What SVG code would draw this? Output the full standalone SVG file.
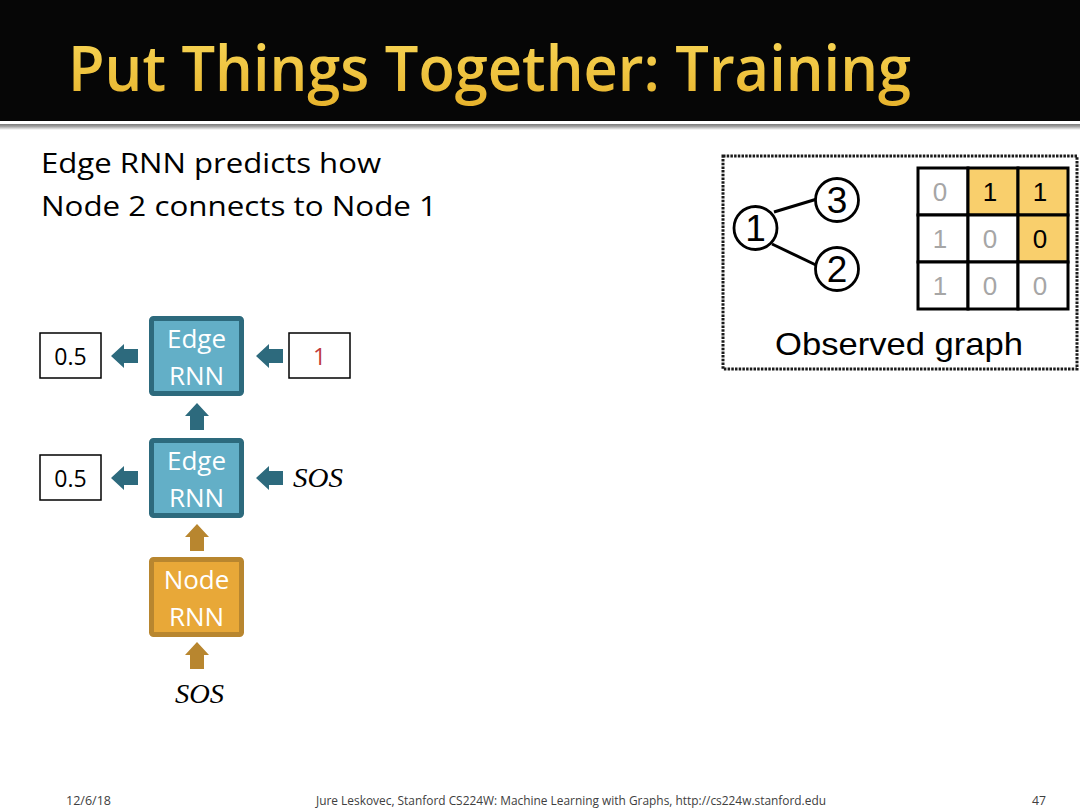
<svg xmlns="http://www.w3.org/2000/svg" width="1080" height="810" viewBox="0 0 1080 810">
  <defs>
    <linearGradient id="titleGold" x1="0" y1="0" x2="0" y2="1">
      <stop offset="0" stop-color="#FADB5C"/>
      <stop offset="1" stop-color="#E6B12A"/>
    </linearGradient>
    <linearGradient id="ruleShade" x1="0" y1="0" x2="0" y2="1">
      <stop offset="0" stop-color="#7A7A7A"/>
      <stop offset="0.4" stop-color="#A0A0A0"/>
      <stop offset="1" stop-color="#FFFFFF"/>
    </linearGradient>
    <!-- block arrow pointing left, tip at origin -->
    <g id="arrowLeft">
      <path d="M0,0 L13,-12 L13,-7 L27,-7 L27,7 L13,7 L13,12 Z"/>
      <line class="stripe" x1="9" y1="0" x2="22" y2="0"/>
    </g>
  </defs>
  <style>
    .sans { font-family: "Open Sans", "Liberation Sans", sans-serif; }
    .helv { font-family: "Liberation Sans", Arial, sans-serif; }
    .math { font-family: "Liberation Serif", "DejaVu Serif", serif; font-style: italic; }
    .edge rect { fill: #63AFC7; stroke: #2D6A7D; stroke-width: 5; }
    .noderb rect { fill: #E8A838; stroke: #B8862F; stroke-width: 5; }
    .rnnlabel { fill: #FFFFFF; font-size: 26px; text-anchor: middle; }
    .valbox rect { fill: #FFFFFF; stroke: #000000; stroke-width: 1.5; }
    .valbox text { font-size: 23px; text-anchor: middle; }
    .teal { fill: #2D6A7D; }
    .teal .stripe { stroke: #6BB5CC; stroke-width: 2.5; }
    .gold { fill: #B8862F; }
    .gold .stripe { stroke: #EDB048; stroke-width: 2.5; }
    .gnode circle { fill: #FFFFFF; stroke: #000000; stroke-width: 2.8; }
    .gnode text { font-size: 37px; text-anchor: middle; }
    .cell { stroke: #000000; stroke-width: 3; }
    .mval { font-size: 26px; text-anchor: middle; }
    .footer { fill: #404040; font-size: 12px; }
  </style>

  <!-- title bar -->
  <rect x="0" y="0" width="1080" height="121" fill="#060606"/>
  <rect x="0" y="124" width="1080" height="6" fill="url(#ruleShade)"/>
  <text class="sans" x="68" y="91" font-size="64" font-weight="600" fill="url(#titleGold)" textLength="843" lengthAdjust="spacingAndGlyphs">Put Things Together: Training</text>

  <!-- subtitle -->
  <text class="sans" x="41" y="173" font-size="28" fill="#000" textLength="340" lengthAdjust="spacingAndGlyphs">Edge RNN predicts how</text>
  <text class="sans" x="41" y="216" font-size="28" fill="#000" textLength="396" lengthAdjust="spacingAndGlyphs">Node 2 connects to Node 1</text>

  <!-- connectors -->
  <g id="connectors">
    <use href="#arrowLeft" class="teal" transform="translate(111,356)"/>
    <use href="#arrowLeft" class="teal" transform="translate(256,356)"/>
    <use href="#arrowLeft" class="teal" transform="translate(111,478)"/>
    <use href="#arrowLeft" class="teal" transform="translate(256,478)"/>
    <use href="#arrowLeft" class="teal" transform="translate(197,403) rotate(90)"/>
    <use href="#arrowLeft" class="gold" transform="translate(197,524) rotate(90)"/>
    <use href="#arrowLeft" class="gold" transform="translate(197,642) rotate(90)"/>
  </g>

  <!-- Edge RNN (upper) -->
  <g id="edge-rnn-2" class="edge">
    <rect x="151.5" y="318.5" width="90" height="75" rx="2"/>
    <text class="sans rnnlabel" x="196.5" y="348">Edge</text>
    <text class="sans rnnlabel" x="196.5" y="385">RNN</text>
  </g>

  <!-- Edge RNN (lower) -->
  <g id="edge-rnn-1" class="edge">
    <rect x="151.5" y="440.5" width="90" height="75" rx="2"/>
    <text class="sans rnnlabel" x="196.5" y="470">Edge</text>
    <text class="sans rnnlabel" x="196.5" y="507">RNN</text>
  </g>

  <!-- Node RNN -->
  <g id="node-rnn" class="noderb">
    <rect x="151.5" y="559.5" width="90" height="75" rx="2"/>
    <text class="sans rnnlabel" x="196.5" y="589">Node</text>
    <text class="sans rnnlabel" x="196.5" y="626">RNN</text>
  </g>

  <!-- outputs / inputs -->
  <g id="out-2" class="valbox">
    <rect x="40" y="333" width="61" height="45"/>
    <text class="sans" x="70.5" y="365" fill="#000">0.5</text>
  </g>
  <g id="in-2" class="valbox">
    <rect x="289" y="333" width="61" height="45"/>
    <text class="sans" x="319.5" y="365" fill="#C0393B">1</text>
  </g>
  <g id="out-1" class="valbox">
    <rect x="40" y="455" width="61" height="45"/>
    <text class="sans" x="70.5" y="487" fill="#000">0.5</text>
  </g>
  <g id="in-1">
    <text class="math" x="293" y="487" font-size="27" fill="#000" textLength="50" lengthAdjust="spacingAndGlyphs">SOS</text>
  </g>
  <g id="in-node">
    <text class="math" x="175" y="703" font-size="27" fill="#000" textLength="49" lengthAdjust="spacingAndGlyphs">SOS</text>
  </g>

  <!-- observed graph panel -->
  <g id="observed-graph">
    <rect x="723" y="156" width="354" height="213" fill="#FFFFFF" stroke="#1A1A1A" stroke-width="3" stroke-dasharray="2.5 1.2"/>
    <line x1="774" y1="212" x2="817" y2="199" stroke="#000" stroke-width="3"/>
    <line x1="772" y1="244" x2="818" y2="266" stroke="#000" stroke-width="3"/>
    <g id="g-node-1" class="gnode helv">
      <circle cx="755.5" cy="228" r="21.5"/>
      <text x="755.5" y="241">1</text>
    </g>
    <g id="g-node-3" class="gnode helv">
      <circle cx="837" cy="200" r="21.5"/>
      <text x="837" y="213">3</text>
    </g>
    <g id="g-node-2" class="gnode helv">
      <circle cx="837" cy="269" r="21.5"/>
      <text x="837" y="282">2</text>
    </g>

    <!-- adjacency matrix -->
    <g id="adjacency" class="helv">
      <rect class="cell" x="918" y="168" width="50" height="47" fill="#FFFFFF"/>
      <rect class="cell" x="968" y="168" width="50" height="47" fill="#F9CF6C"/>
      <rect class="cell" x="1018" y="168" width="50" height="47" fill="#F9CF6C"/>
      <rect class="cell" x="918" y="215" width="50" height="47" fill="#FFFFFF"/>
      <rect class="cell" x="968" y="215" width="50" height="47" fill="#FFFFFF"/>
      <rect class="cell" x="1018" y="215" width="50" height="47" fill="#F9CF6C"/>
      <rect class="cell" x="918" y="262" width="50" height="47" fill="#FFFFFF"/>
      <rect class="cell" x="968" y="262" width="50" height="47" fill="#FFFFFF"/>
      <rect class="cell" x="1018" y="262" width="50" height="47" fill="#FFFFFF"/>
      <text class="mval" x="940" y="201" fill="#A6A6A6">0</text>
      <text class="mval" x="990" y="201" fill="#000">1</text>
      <text class="mval" x="1040" y="201" fill="#000">1</text>
      <text class="mval" x="940" y="248" fill="#A6A6A6">1</text>
      <text class="mval" x="990" y="248" fill="#A6A6A6">0</text>
      <text class="mval" x="1040" y="248" fill="#000">0</text>
      <text class="mval" x="940" y="295" fill="#A6A6A6">1</text>
      <text class="mval" x="990" y="295" fill="#A6A6A6">0</text>
      <text class="mval" x="1040" y="295" fill="#A6A6A6">0</text>
    </g>
    <text class="helv" x="775" y="355" font-size="32" fill="#000" textLength="248" lengthAdjust="spacingAndGlyphs">Observed graph</text>
  </g>

  <!-- footer -->
  <text class="sans footer" x="66" y="805" textLength="45" lengthAdjust="spacingAndGlyphs">12/6/18</text>
  <text class="sans footer" x="316" y="805" textLength="510" lengthAdjust="spacingAndGlyphs">Jure Leskovec, Stanford CS224W: Machine Learning with Graphs, http://cs224w.stanford.edu</text>
  <text class="sans footer" x="1032" y="805" textLength="14" lengthAdjust="spacingAndGlyphs">47</text>
</svg>
